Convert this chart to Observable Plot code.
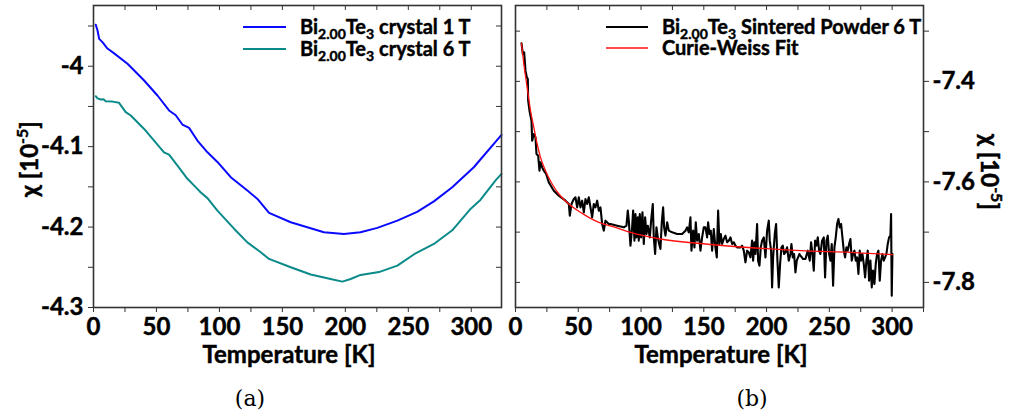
<!DOCTYPE html>
<html><head><meta charset="utf-8">
<script src="https://cdn.jsdelivr.net/npm/d3@7"></script>
<script src="https://cdn.jsdelivr.net/npm/@observablehq/plot@0.6"></script>
<style>
body{margin:0;background:#fff;}
#wrap{position:relative;width:1012px;height:418px;overflow:hidden;}
#wrap svg{position:absolute;left:0;top:0;}
#wrap svg text{stroke:#000;stroke-width:0.45px;}
.cap{position:absolute;font-family:"DejaVu Serif","Liberation Serif",serif;font-size:22px;transform:translate(-50%,-50%);}
</style></head><body><div id="wrap"></div>
<script>
// ---- Panel (a): Bi2.00Te3 crystal, chi [1e-5] vs T [K]
const crystal1T = [1.8,3.2,4.5,7.1,11.1,16.4,27,40.2,50.8,60,65.3,70.6,75.9,82.5,90.5,98.4,109,122.2,130.2,139.4,156.6,183,198.9,212,225.4,241.3,257,270.3,284.9,302,324];
const crystal1Chi = [-3.9485,-3.9556,-3.966,-3.970,-3.978,-3.984,-3.997,-4.0178,-4.0364,-4.055,-4.061,-4.0725,-4.0767,-4.0924,-4.107,-4.119,-4.138,-4.1546,-4.165,-4.1824,-4.194,-4.2065,-4.2085,-4.2065,-4.201,-4.192,-4.181,-4.168,-4.1505,-4.1256,-4.0853];
const crystal6T = [1.8,3.2,5.8,7.9,9.8,15.1,20.3,25.6,29.6,40.2,48.1,56,60,66.7,74.6,82.5,85.2,90.5,98.4,111.6,122.2,132.8,139.4,156.6,172.5,188.3,197.6,204.2,212.1,226.7,241.3,255.8,270.3,284.9,299.4,307.4,319.3,324];
const crystal6Chi = [-4.0373,-4.040,-4.0414,-4.041,-4.0435,-4.044,-4.0455,-4.057,-4.0613,-4.078,-4.0924,-4.107,-4.11,-4.1235,-4.14,-4.1525,-4.157,-4.164,-4.1795,-4.202,-4.219,-4.2313,-4.2396,-4.25,-4.259,-4.2645,-4.2678,-4.2645,-4.2595,-4.256,-4.248,-4.2326,-4.221,-4.204,-4.1774,-4.166,-4.142,-4.1339];

// ---- Panel (b): sintered powder 6 T, [T, chi]
const powder = [
[4.78,-7.3243],[5.84,-7.3455],[6.90,-7.3422],[7.96,-7.3787],[9.03,-7.392],[9.82,-7.3953],[10.09,-7.4384],[11.15,-7.4583],[12.74,-7.4782],[13.27,-7.518],[14.60,-7.5047],[15.93,-7.5114],[16.72,-7.5445],[18.05,-7.5479],[19.11,-7.5777],[19.91,-7.5612],[21.24,-7.5711],[22.56,-7.5777],[24.42,-7.5843],[26.55,-7.601],[30.53,-7.6175],[34.51,-7.6275],[39.82,-7.6374],[42.47,-7.644],[43.27,-7.6673],[44.60,-7.644],[46.46,-7.634],[47.78,-7.6308],[49.11,-7.6507],[50.44,-7.6308],[51.77,-7.6507],[53.09,-7.6374],[54.42,-7.6607],[55.75,-7.634],[57.07,-7.644],[58.40,-7.6308],[59.73,-7.6507],[61.06,-7.6706],[62.38,-7.644],[63.71,-7.6507],[65.04,-7.6374],[66.37,-7.6573],[67.69,-7.6507],[69.02,-7.6838],[70.35,-7.6971],[71.68,-7.6772],[74.33,-7.6838],
[75.65,-7.6838],[80.96,-7.6872],[86.27,-7.6905],[88.39,-7.6872],[89.45,-7.6573],[90.25,-7.6772],[91.58,-7.727],[92.91,-7.6905],[93.70,-7.6573],[94.76,-7.717],[95.56,-7.6639],[96.36,-7.7104],[97.42,-7.6706],[98.21,-7.717],[99.01,-7.6639],[100.07,-7.7104],[101.13,-7.6606],[102.20,-7.7236],[103.26,-7.6706],[104.32,-7.7037],[105.38,-7.6872],[106.97,-7.7104],[108.04,-7.6772],[109.36,-7.644],[110.16,-7.7104],[111.22,-7.7435],[112.28,-7.6905],[113.35,-7.7104],[114.41,-7.7236],[115.47,-7.7336],[116.53,-7.6805],[117.59,-7.6507],[118.39,-7.6905],[119.45,-7.7071],[120.78,-7.6805],[122.11,-7.6971],[124.76,-7.7004],[128.74,-7.7037],[132.72,-7.7037],[135.38,-7.6971],[136.71,-7.6905],[138.03,-7.7004],[139.36,-7.6706],[140.16,-7.7369],[141.49,-7.6971],[142.55,-7.7303],[143.61,-7.6805],[144.67,-7.717],[146.00,-7.7037],[147.33,-7.7369],[148.65,-7.7104],[149.98,-7.6905],
[151.31,-7.6905],[152.64,-7.7104],[153.43,-7.6805],[154.50,-7.7037],[155.56,-7.6971],[156.62,-7.7369],[157.95,-7.6938],[159.27,-7.7303],[160.34,-7.7502],[161.40,-7.6573],[162.46,-7.7236],[163.52,-7.7037],[164.58,-7.7236],[165.91,-7.7137],[167.24,-7.7071],[168.57,-7.7203],[169.89,-7.717],[171.22,-7.7104],[172.55,-7.7236],[173.87,-7.7203],[175.20,-7.727],[176.53,-7.7303],[179.18,-7.7303],[180.51,-7.727],[181.84,-7.7369],[183.17,-7.7601],[184.49,-7.7369],[185.82,-7.7402],[187.15,-7.7502],[188.47,-7.717],[189.27,-7.7568],[190.33,-7.7203],[191.13,-7.7435],[192.46,-7.6838],[193.25,-7.7568],[194.31,-7.7668],[195.38,-7.7303],[196.44,-7.717],[197.77,-7.7104],[199.09,-7.7502],[200.42,-7.6971],[201.75,-7.6772],[202.54,-7.717],[203.61,-7.7369],[204.40,-7.8099],[205.20,-7.7502],[206.53,-7.7037],[207.59,-7.6838],[208.65,-7.7568],[209.71,-7.8099],[210.77,-7.7634],[211.84,-7.7303],[212.90,-7.727],[213.96,-7.7435],[215.02,-7.7402],[216.35,-7.7303],[217.68,-7.7568],[219.00,-7.7435],[219.80,-7.7236],[220.86,-7.7502],[221.92,-7.7435],[222.99,-7.78],[224.05,-7.7568],[225.11,-7.7502],[226.17,-7.7435],
[226.97,-7.7469],[229.09,-7.7535],[230.95,-7.7535],[232.81,-7.7369],[234.40,-7.7568],[235.46,-7.7203],[236.53,-7.7435],[237.59,-7.7767],[238.65,-7.717],[239.71,-7.727],[240.77,-7.7104],[241.84,-7.7369],[242.90,-7.7435],[244.23,-7.717],[245.55,-7.7104],[246.61,-7.79],[247.68,-7.717],[248.74,-7.7071],[249.80,-7.7435],[250.86,-7.7568],[251.92,-7.7236],[252.99,-7.8066],[254.05,-7.7303],[255.11,-7.7104],[256.17,-7.6838],[257.23,-7.6739],[258.29,-7.6905],[259.36,-7.6838],[260.42,-7.7104],[261.48,-7.7369],[262.54,-7.7502],[263.60,-7.7303],[264.67,-7.7369],[265.73,-7.7236],[266.79,-7.7137],[267.85,-7.7568],[268.91,-7.7435],[269.97,-7.7369],[271.04,-7.7568],[272.10,-7.7502],[273.16,-7.7833],[274.22,-7.7369],[275.28,-7.7568],[276.35,-7.7435],[277.41,-7.7634],[278.47,-7.79],[279.53,-7.7568],[280.59,-7.7369],[281.66,-7.7966],[282.72,-7.7568],[283.78,-7.8099],[284.84,-7.7767],[285.90,-7.8032],[286.96,-7.7634],[288.03,-7.7435],[289.09,-7.7369],[290.15,-7.7966],[291.21,-7.7568],[292.27,-7.7435],[293.34,-7.7568],[294.40,-7.7502],[295.46,-7.7435],[296.52,-7.7236],[297.58,-7.7104],[298.65,-7.7071],[299.18,-7.6639],[299.44,-7.7502],[299.71,-7.8265],[300.24,-7.7435]
];
// Curie-Weiss fit curve
const fitT = [4.78,6.64,9.29,11.95,14.60,17.26,19.91,23.89,29.20,34.51,42.47,53.09,66.37,79.64,91.58,115.47,151.31,191.13,230.95,266.79,300.24];
const fitChi = [-7.3243,-7.3654,-7.4119,-7.4583,-7.4915,-7.5246,-7.5512,-7.5777,-7.6042,-7.6241,-7.644,-7.6627,-7.6806,-7.6905,-7.7004,-7.7137,-7.7236,-7.7316,-7.7375,-7.7402,-7.7449];

// ticks
const xTicksA = [0,25,50,75,100,125,150,175,200,225,250,275,300];
const xLabelsA = [0,50,100,150,200,250,300];
const yTicksA = [-3.95,-4,-4.05,-4.1,-4.15,-4.2,-4.25,-4.3];
const yLabelsA = [-4,-4.1,-4.2,-4.3];
const xTicksB = [0,25,50,75,100,125,150,175,200,225,250,275,300,325];
const xLabelsB = [0,50,100,150,200,250,300];
const yTicksB = [-7.3,-7.4,-7.5,-7.6,-7.7,-7.8];
const yLabelsB = [-7.4,-7.6,-7.8];

const W = 1012, H = 370, MT = 5, MB = 63;
const innerH = H - MT - MB;
const innerW = 408;
const axisColor = "#333";
const FW = "bold";
const TS = 24;
const fmt = labels => d => labels.includes(d) ? String(d) : "";
const baseStyle = {fontFamily: "Lato, 'DejaVu Sans', sans-serif", fontWeight: FW, fontSize: TS + "px", color: "#000", background: "transparent", overflow: "visible"};

const plotA = Plot.plot({
  width: W, height: H, marginLeft: 93, marginRight: 511, marginTop: MT, marginBottom: MB,
  style: baseStyle,
  x: {domain: [0, 324]},
  y: {domain: [-4.3, -3.9245]},
  marks: [
    Plot.line({length: crystal1T.length}, {x: crystal1T, y: crystal1Chi, stroke: "#0a0aff", strokeWidth: 2}),
    Plot.line({length: crystal6T.length}, {x: crystal6T, y: crystal6Chi, stroke: "#0b8a8a", strokeWidth: 2}),
    Plot.axisX(xTicksA, {anchor: "bottom", tickSize: 5, tickPadding: 5, tickFormat: fmt(xLabelsA), label: null, stroke: axisColor, fontSize: TS, fontWeight: FW}),
    Plot.axisY(yTicksA, {anchor: "left", tickSize: 5, tickPadding: 5, tickFormat: fmt(yLabelsA), label: null, stroke: axisColor, fontSize: TS, fontWeight: FW}),
    Plot.tickX(xTicksA, {x: d => d, insetBottom: innerH - 5, stroke: axisColor}),
    Plot.tickY(yTicksA, {y: d => d, insetLeft: innerW - 5, stroke: axisColor}),
    Plot.frame({stroke: axisColor, strokeWidth: 1.6})
  ]
});

const plotB = Plot.plot({
  width: W, height: H, marginLeft: 515, marginRight: 89, marginTop: MT, marginBottom: MB,
  style: baseStyle,
  x: {domain: [0, 325]},
  y: {domain: [-7.85, -7.249]},
  marks: [
    Plot.line(powder, {x: d => d[0], y: d => d[1], stroke: "#000", strokeWidth: 2.1}),
    Plot.line({length: fitT.length}, {x: fitT, y: fitChi, stroke: "#ff1010", strokeWidth: 1.3, curve: "monotone-x"}),
    Plot.axisX(xTicksB, {anchor: "bottom", tickSize: 5, tickPadding: 5, tickFormat: fmt(xLabelsB), label: null, stroke: axisColor, fontSize: TS, fontWeight: FW}),
    Plot.axisY(yTicksB, {anchor: "right", tickSize: 5, tickPadding: 4, tickFormat: fmt(yLabelsB), label: null, stroke: axisColor, fontSize: TS, fontWeight: FW}),
    Plot.tickX(xTicksB, {x: d => d, insetBottom: innerH - 5, stroke: axisColor}),
    Plot.tickY(yTicksB, {y: d => d, insetRight: innerW - 5, stroke: axisColor}),
    Plot.frame({stroke: axisColor, strokeWidth: 1.6})
  ]
});

const wrap = document.getElementById("wrap");
wrap.appendChild(plotA);
wrap.appendChild(plotB);

// Legend rows with subscripts
function formulaText(svg, x, y, rest, size) {
  const t = svg.append("text").attr("x", x).attr("y", y).attr("text-anchor", "start")
    .style("font-size", size + "px").style("font-weight", FW).attr("fill", "#000");
  const sub = Math.round(size * 0.68);
  t.append("tspan").text("Bi");
  t.append("tspan").attr("dy", 5).style("font-size", sub + "px").text("2.00");
  t.append("tspan").attr("dy", -5).text("Te");
  t.append("tspan").attr("dy", 5).style("font-size", sub + "px").text("3");
  t.append("tspan").attr("dy", -5).text(rest);
  return t;
}
function legendLine(svg, x1, x2, y, color, w) {
  svg.append("line").attr("x1", x1).attr("x2", x2).attr("y1", y).attr("y2", y)
    .attr("stroke", color).attr("stroke-width", w);
}
const LS = 20;
const sA = d3.select(plotA);
legendLine(sA, 243, 286, 27, "#0a0aff", 2);
formulaText(sA, 300, 34, " crystal 1 T", LS);
legendLine(sA, 243, 286, 49, "#0b8a8a", 2);
formulaText(sA, 300, 56, " crystal 6 T", LS);

const sB = d3.select(plotB);
legendLine(sB, 606, 648, 27, "#000", 2.1);
formulaText(sB, 662, 34, " Sintered Powder 6 T", LS);
legendLine(sB, 606, 648, 48, "#ff1010", 1.3);
sB.append("text").attr("x", 662).attr("y", 55).attr("text-anchor", "start").style("font-size", LS + "px").style("font-weight", FW).text("Curie-Weiss Fit");

// Axis titles
function chiLabel(svg, x, y, rot) {
  const t = svg.append("text").attr("transform", `translate(${x},${y}) rotate(${rot})`)
    .attr("text-anchor", "middle").style("font-size", "24px").style("font-weight", FW);
  t.append("tspan").text("χ [10");
  t.append("tspan").attr("dy", -10).style("font-size", "16px").text("-5");
  t.append("tspan").attr("dy", 10).text("]");
}
chiLabel(sA, 38, 159, -90);
chiLabel(sB, 981, 172, 90);
sA.append("text").attr("x", 289).attr("y", 363).attr("text-anchor", "middle").style("font-size", "24px").style("font-weight", FW).text("Temperature [K]");
sB.append("text").attr("x", 721).attr("y", 363).attr("text-anchor", "middle").style("font-size", "24px").style("font-weight", FW).text("Temperature [K]");

// sub-figure captions
for (const [txt, x] of [["(a)", 250], ["(b)", 752]]) {
  const d = document.createElement("div");
  d.className = "cap"; d.textContent = txt;
  d.style.left = x + "px"; d.style.top = "398px";
  wrap.appendChild(d);
}
</script>
</body></html>
